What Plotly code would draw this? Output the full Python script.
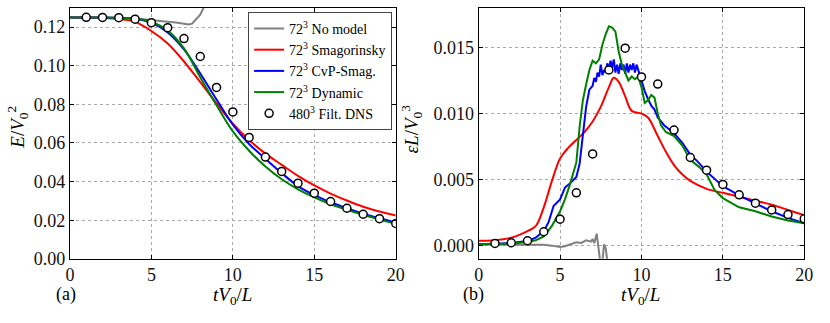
import plotly.graph_objects as go

# ---- left panel: kinetic energy E/V0^2 ----
t_e = [0, 1, 2, 3, 4, 5, 6, 7, 8, 9, 10, 11, 12, 13, 14, 15, 16, 17, 18, 19, 20]
E_smag = [0.125, 0.125, 0.1248, 0.1242, 0.1227, 0.1180, 0.1115, 0.1022, 0.0915, 0.0805, 0.0700,
          0.0615, 0.0545, 0.0487, 0.0430, 0.0380, 0.0338, 0.0302, 0.0270, 0.0245, 0.0224]
E_cvp = [0.125, 0.125, 0.125, 0.1248, 0.1243, 0.1222, 0.1173, 0.1085, 0.0960, 0.0825, 0.0695,
         0.0595, 0.0518, 0.0444, 0.0377, 0.0330, 0.0293, 0.0262, 0.0234, 0.0210, 0.0188]
E_dyn = [0.125, 0.125, 0.125, 0.1248, 0.1245, 0.1228, 0.1182, 0.1090, 0.0940, 0.0795, 0.0660,
         0.0560, 0.0478, 0.0412, 0.0360, 0.0318, 0.0283, 0.0255, 0.0228, 0.0204, 0.0181]
t_e_nomodel = [0, 1, 2, 3, 4, 5, 6, 6.5, 7, 7.3, 7.5, 7.7, 8.0, 8.2, 8.4]
E_nomodel = [0.125, 0.125, 0.125, 0.1249, 0.1245, 0.1235, 0.1228, 0.1224, 0.1220, 0.1214,
             0.1218, 0.1235, 0.1265, 0.1300, 0.1340]
t_dns = [1, 2, 3, 4, 5, 6, 7, 8, 9, 10, 11, 12, 13, 14, 15, 16, 17, 18, 19, 20]
E_dns = [0.1251, 0.1250, 0.1249, 0.1241, 0.1223, 0.1197, 0.1141, 0.1048, 0.0888, 0.0761,
         0.0629, 0.0527, 0.0453, 0.0392, 0.0340, 0.0297, 0.0262, 0.0231, 0.0208, 0.0183]

# ---- right panel: dissipation eps L/V0^3 ----
t_d_smag = [0, 1, 2, 3, 3.5, 4, 4.5, 5, 5.5, 6, 6.5, 7, 7.5, 8, 8.3, 8.6, 9, 9.4, 10, 10.4,
            11, 11.5, 12, 12.5, 13, 14, 15, 16, 17, 18, 19, 20]
d_smag = [0.00037, 0.0004, 0.0006, 0.0011, 0.00147, 0.0029, 0.0049, 0.0066, 0.0074, 0.0080,
          0.0086, 0.0094, 0.0105, 0.0120, 0.0127, 0.0124, 0.0113, 0.0102, 0.0100, 0.0097,
          0.0083, 0.0071, 0.0061, 0.0054, 0.0049, 0.0043, 0.0040, 0.0037, 0.0034, 0.0031,
          0.0027, 0.0023]
t_d_cvp = [0, 1, 2, 3, 3.5, 4, 4.3, 4.6, 5, 5.3, 5.6, 6, 6.2, 6.4, 6.6, 6.8, 7.0, 7.1, 7.2,
           7.3, 7.4, 7.5, 7.6, 7.7, 7.8, 7.9, 8.0, 8.1, 8.2, 8.3, 8.4, 8.5, 8.6, 8.7, 8.8,
           8.9, 9.0, 9.1, 9.2, 9.3, 9.4, 9.5, 9.6, 9.7, 9.8, 9.9, 10.0, 10.2, 10.4, 10.6,
           10.8, 11.0, 11.2, 11.4, 11.6, 11.8, 12.0, 12.5, 13.0, 13.5, 14, 15, 16, 17, 18,
           19, 20]
d_cvp = [0.0001, 0.00012, 0.0002, 0.00035, 0.0006, 0.0011, 0.0018, 0.0030, 0.0035, 0.0044,
         0.0047, 0.0052, 0.0062, 0.0085, 0.0105, 0.0118, 0.0121, 0.0127, 0.0124, 0.0131,
         0.0128, 0.0137, 0.0129, 0.0133, 0.0131, 0.0138, 0.0134, 0.0140, 0.0135, 0.0141,
         0.0131, 0.0137, 0.0130, 0.0138, 0.0133, 0.0137, 0.0130, 0.0138, 0.0131, 0.0137,
         0.0133, 0.0138, 0.0131, 0.0137, 0.0133, 0.0128, 0.0124, 0.0117, 0.0111, 0.0106,
         0.0103, 0.0097, 0.0094, 0.0091, 0.0089, 0.0087, 0.0085, 0.0078, 0.0069, 0.0063,
         0.0056, 0.0045, 0.0038, 0.0032, 0.0026, 0.0021, 0.0017]
t_d_dyn = [0, 1, 2, 3, 3.5, 4, 4.5, 5, 5.3, 5.6, 6, 6.2, 6.4, 6.6, 6.8, 7.0, 7.2, 7.4, 7.6,
           7.8, 8.0, 8.2, 8.4, 8.6, 8.8, 9.0, 9.2, 9.4, 9.6, 9.8, 10.0, 10.2, 10.4, 10.6,
           10.8, 11.0, 11.2, 11.5, 12, 12.5, 13, 13.5, 14, 14.5, 15, 16, 17, 18, 19, 20]
d_dyn = [0.00012, 0.00012, 0.00015, 0.00028, 0.0004, 0.0007, 0.0015, 0.0026, 0.0035, 0.0046,
         0.0063, 0.0090, 0.0110, 0.0122, 0.0133, 0.0140, 0.0138, 0.0141, 0.0152, 0.0160,
         0.0166, 0.0165, 0.0162, 0.0147, 0.0137, 0.0131, 0.0125, 0.0128, 0.0126, 0.0128,
         0.0120, 0.0108, 0.0110, 0.0114, 0.0112, 0.0100, 0.0091, 0.0086, 0.0083, 0.0076,
         0.0065, 0.0060, 0.0054, 0.0042, 0.0036, 0.0029, 0.0026, 0.0022, 0.0019, 0.0017]
t_d_nomodel = [0, 1, 2, 3, 4, 4.5, 5, 5.3, 5.6, 6, 6.3, 6.6, 6.9, 7.0, 7.1, 7.2, 7.25, 7.3,
               7.4, 7.5, 7.6, 7.7, 7.8, 7.9, 8.0]
d_nomodel = [0.00008, 0.00008, 0.00008, 0.00007, 0.00006, 0.0, -0.0001, -0.00005, 0.0001,
             0.00025, 0.0002, 0.0004, 0.0003, 0.0005, 0.0002, 0.0006, 0.0009, 0.0004,
             -0.0005, -0.0015, -0.0012, 0.0001, -0.0002, -0.0015, -0.002]
d_dns = [0.00017, 0.00022, 0.00037, 0.00105, 0.0020, 0.0040, 0.00694, 0.0133, 0.01495,
         0.01277, 0.01223, 0.00875, 0.00667, 0.00571, 0.00463, 0.00385, 0.00321, 0.0027,
         0.00235, 0.00203]

names = ["72<sup>3</sup> No model", "72<sup>3</sup> Smagorinsky", "72<sup>3</sup> CvP-Smag.",
         "72<sup>3</sup> Dynamic", "480<sup>3</sup> Filt. DNS"]
colors = ["#808080", "#ff0000", "#0000ff", "#008000"]

fig = go.Figure()

# left panel
fig.add_trace(go.Scatter(x=t_e_nomodel, y=E_nomodel, mode='lines', name=names[0],
                         line=dict(color=colors[0], width=2), xaxis='x', yaxis='y'))
fig.add_trace(go.Scatter(x=t_e, y=E_smag, mode='lines', name=names[1], line_shape='spline',
                         line=dict(color=colors[1], width=2), xaxis='x', yaxis='y'))
fig.add_trace(go.Scatter(x=t_e, y=E_cvp, mode='lines', name=names[2], line_shape='spline',
                         line=dict(color=colors[2], width=2), xaxis='x', yaxis='y'))
fig.add_trace(go.Scatter(x=t_e, y=E_dyn, mode='lines', name=names[3], line_shape='spline',
                         line=dict(color=colors[3], width=2), xaxis='x', yaxis='y'))
fig.add_trace(go.Scatter(x=t_dns, y=E_dns, mode='markers', name=names[4],
                         marker=dict(symbol='circle', size=8, color='white',
                                     line=dict(color='black', width=1.5)),
                         xaxis='x', yaxis='y'))

# right panel
fig.add_trace(go.Scatter(x=t_d_nomodel, y=d_nomodel, mode='lines', showlegend=False,
                         line=dict(color=colors[0], width=2), xaxis='x2', yaxis='y2'))
fig.add_trace(go.Scatter(x=t_d_smag, y=d_smag, mode='lines', showlegend=False, line_shape='spline',
                         line=dict(color=colors[1], width=2), xaxis='x2', yaxis='y2'))
fig.add_trace(go.Scatter(x=t_d_cvp, y=d_cvp, mode='lines', showlegend=False,
                         line=dict(color=colors[2], width=2), xaxis='x2', yaxis='y2'))
fig.add_trace(go.Scatter(x=t_d_dyn, y=d_dyn, mode='lines', showlegend=False,
                         line=dict(color=colors[3], width=2), xaxis='x2', yaxis='y2'))
fig.add_trace(go.Scatter(x=t_dns, y=d_dns, mode='markers', showlegend=False,
                         marker=dict(symbol='circle', size=8, color='white',
                                     line=dict(color='black', width=1.5)),
                         xaxis='x2', yaxis='y2'))

serif = "Liberation Serif"
axis_style = dict(showline=True, linecolor='black', linewidth=1, mirror='allticks',
                  ticks='inside', ticklen=4, tickcolor='black', zeroline=False,
                  showgrid=True, gridcolor='#a8a8a8', griddash='dot', gridwidth=1,
                  tickfont=dict(family=serif, size=18, color='#111'))

# text positions in pixels (x from left, y from top) -> paper coords below
texts = [
    ("<i>tV</i><sub>0</sub>/<i>L</i>", 232, 305, 0, 19),
    ("<i>tV</i><sub>0</sub>/<i>L</i>", 647, 305, 0, 19),
    ("(a)", 63, 304, 0, 18),
    ("(b)", 477, 304, 0, 18),
    ("<i>E</i>/<i>V</i><sub>0</sub><sup>2</sup>", 14, 131, -90, 19),
    ("<i>εL</i>/<i>V</i><sub>0</sub><sup>3</sup>", 414, 133, -90, 19),
]
annotations = [dict(text=s, x=px / 830, y=1 - py / 323, xref='paper', yref='paper',
                    xanchor='center', yanchor='middle', textangle=ang, showarrow=False,
                    font=dict(size=fs)) for s, px, py, ang, fs in texts]

fig.update_layout(
    width=830, height=323,
    margin=dict(l=0, r=0, t=0, b=0),
    plot_bgcolor='white', paper_bgcolor='white',
    font=dict(family=serif, color='black'),
    xaxis=dict(domain=[0.0807, 0.4795], range=[0, 20], tickvals=[0, 5, 10, 15, 20],
               anchor='y', **axis_style),
    yaxis=dict(domain=[0.173, 0.975], range=[0, 0.13],
               tickvals=[0, 0.02, 0.04, 0.06, 0.08, 0.10, 0.12], tickformat='.2f',
               anchor='x', **axis_style),
    xaxis2=dict(domain=[0.581, 0.9795], range=[0, 20], tickvals=[0, 5, 10, 15, 20],
                anchor='y2', **axis_style),
    yaxis2=dict(domain=[0.173, 0.975], range=[-0.001, 0.018],
                tickvals=[0, 0.005, 0.010, 0.015], tickformat='.3f',
                anchor='x2', **axis_style),
    legend=dict(x=0.2988, y=0.962, xanchor='left', yanchor='top',
                bgcolor='white', bordercolor='#444', borderwidth=1,
                font=dict(family=serif, size=14, color='black'), itemwidth=30,
                tracegroupgap=0),
    annotations=annotations,
)

# pin the figure to the page's top-left corner so the page is exactly 830x323
page_fix = (
    "var d=document.getElementById('{plot_id}');"
    "d.style.position='fixed';d.style.left='0px';d.style.top='0px';"
    "var h=document.documentElement,b=document.body;"
    "h.style.margin='0';b.style.margin='0';"
    "h.style.overflow='hidden';b.style.overflow='hidden';"
    "h.style.height='323px';b.style.height='323px';"
    "h.style.width='830px';b.style.width='830px';"
)
fig.write_html("out.html", config={'responsive': False, 'displayModeBar': False},
               post_script=page_fix)
